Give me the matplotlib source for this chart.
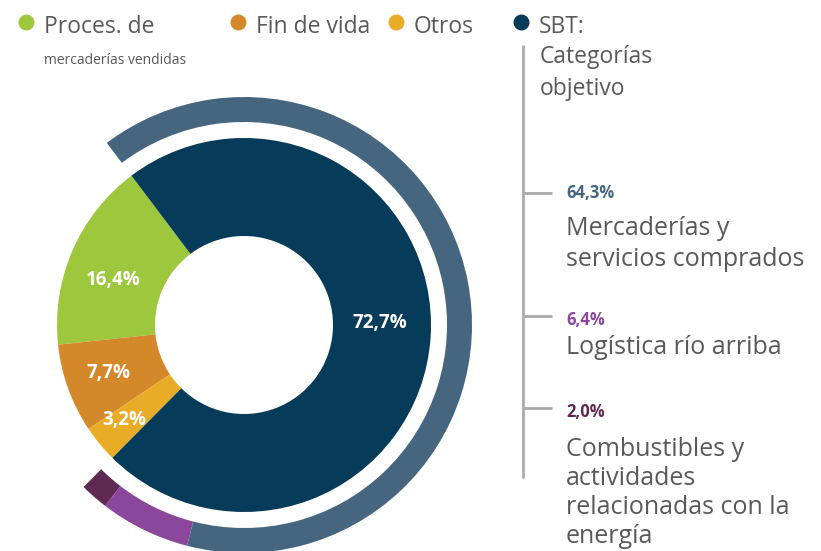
import matplotlib
matplotlib.use("Agg")
import matplotlib.pyplot as plt

plt.rcParams['font.family'] = ['Open Sans', 'DejaVu Sans']

# inner ring: emission categories (percent)
inner_labels = ['Proces. de mercaderías vendidas', 'Fin de vida', 'Otros', 'SBT: Categorías objetivo']
inner_values = [16.4, 7.7, 3.2, 72.7]
inner_colors = ['#9DC83D', '#D3882A', '#E8AC26', '#073B5A']

# outer ring: split of the SBT share
sbt_labels = ['Mercaderías y\nservicios comprados', 'Logística río arriba',
              'Combustibles y\nactividades\nrelacionadas con la\nenergía']
sbt_values = [64.3, 6.4, 2.0]
sbt_colors = ['#46667F', '#8B479B', '#5E2A54']

W, H = 821, 551
TXT = '#595959'


def Y(y):
    # pixel row from the top -> data y
    return H - y


fig = plt.figure(figsize=(W / 100, H / 100), dpi=100)
ax = fig.add_axes([0, 0, 1, 1])

cx, cy = 244, Y(325)

# inner donut
wedges, texts, autotexts = ax.pie(
    inner_values, colors=inner_colors, startangle=127, counterclock=True,
    center=(cx, cy), radius=187, wedgeprops=dict(width=98, edgecolor='none'),
    autopct=lambda p: f"{p:.1f}%".replace('.', ','), pctdistance=0.76,
    textprops=dict(color='white', fontsize=13.5, fontweight='bold'))
# nudge labels to where they sit in the original
label_pos = [(113, 280), (108, 373), (124, 420), (380, 323)]
for t, (px, py) in zip(autotexts, label_pos):
    t.set_position((px, Y(py)))

# outer ring only covers the SBT share
rest = sum(inner_values) - sum(sbt_values)
outer, _ = ax.pie(sbt_values + [rest], colors=sbt_colors + ['none'],
                  startangle=127, counterclock=False, center=(cx, cy), radius=228,
                  wedgeprops=dict(width=25, edgecolor='none'))
outer[-1].set_visible(False)

ax.set_xlim(0, W)
ax.set_ylim(0, H)
ax.set_aspect('equal')
ax.axis('off')

# top legend
leg = [(26, inner_colors[0], 'Proces. de'), (238, inner_colors[1], 'Fin de vida'),
       (396, inner_colors[2], 'Otros'), (521, inner_colors[3], 'SBT:')]
for x, c, t in leg:
    ax.scatter([x], [Y(22)], s=110, color=c, zorder=5)
    ax.text(x + 18, Y(27), t, fontsize=16.5, color=TXT, va='center', ha='left')
ax.text(44, Y(61), 'mercaderías vendidas', fontsize=10, color=TXT, va='center', ha='left')
ax.text(540, Y(73), 'Categorías\nobjetivo', fontsize=16.5, color=TXT, va='center', ha='left',
        linespacing=1.45)

# bracket
ax.plot([523, 523], [Y(45), Y(478)], color='#AAAAAA', lw=2, solid_capstyle='butt')
tick_y = [193, 316, 408]
for ty in tick_y:
    ax.plot([523, 552], [Y(ty), Y(ty)], color='#AAAAAA', lw=2, solid_capstyle='butt')

pct_y = [193, 320, 412]
lab_y = [244, 348, 493]
lab_sp = [1.3, 1.2, 1.2]
for v, c, lab, py, ly, sp in zip(sbt_values, sbt_colors, sbt_labels, pct_y, lab_y, lab_sp):
    ax.text(566, Y(py), f"{v:.1f}%".replace('.', ','), fontsize=12, fontweight='bold',
            color=c, va='center', ha='left')
    ax.text(566, Y(ly), lab, fontsize=18, color=TXT, va='center', ha='left',
            linespacing=sp)

fig.savefig('out.png', dpi=100)
